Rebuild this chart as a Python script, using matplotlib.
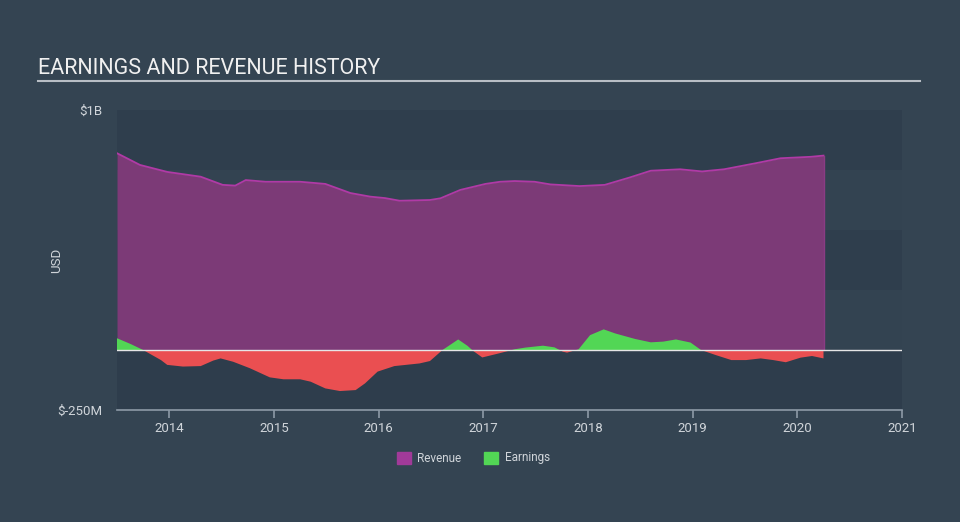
import numpy as np
import matplotlib.pyplot as plt

plt.rcParams['font.family'] = ['Roboto', 'DejaVu Sans']

# revenue history, $M
rev_years = [2013.50, 2013.72, 2013.98, 2014.30, 2014.51, 2014.63, 2014.73, 2014.92,
             2015.25, 2015.49, 2015.73, 2015.92, 2016.06, 2016.20, 2016.49, 2016.59,
             2016.78, 2017.02, 2017.16, 2017.30, 2017.49, 2017.64, 2017.92, 2018.16,
             2018.40, 2018.60, 2018.88, 2019.09, 2019.30, 2019.60, 2019.84, 2020.13,
             2020.25]
revenue = [820, 771, 742, 722, 688, 685, 708, 701,
           701, 692, 654, 639, 633, 622, 625, 632,
           667, 692, 701, 704, 701, 690, 683, 688,
           719, 747, 753, 744, 753, 778, 799, 805,
           810]

# earnings history, $M
earn_years = [2013.50, 2013.63, 2013.75, 2013.92, 2013.98, 2014.13, 2014.30, 2014.42,
              2014.49, 2014.61, 2014.77, 2014.96, 2015.09, 2015.25, 2015.35, 2015.49,
              2015.63, 2015.78, 2015.87, 2015.99, 2016.15, 2016.39, 2016.49, 2016.61,
              2016.76, 2016.85, 2016.90, 2016.99, 2017.15, 2017.30, 2017.40, 2017.57,
              2017.68, 2017.76, 2017.80, 2017.91, 2018.02, 2018.15, 2018.26, 2018.45,
              2018.60, 2018.72, 2018.84, 2018.98, 2019.08, 2019.22, 2019.37, 2019.51,
              2019.65, 2019.77, 2019.89, 2020.03, 2020.14, 2020.25]
earnings = [49, 25, 0, -42, -62, -69, -67, -44,
            -35, -49, -76, -114, -122, -122, -132, -160,
            -171, -167, -139, -90, -67, -56, -46, 0,
            44, 17, -3, -31, -14, 3, 10, 18,
            11, -7, -11, 3, 62, 86, 69, 46,
            32, 35, 44, 31, 0, -21, -42, -42,
            -35, -42, -51, -32, -25, -35]

year_ticks = [2014, 2015, 2016, 2017, 2018, 2019, 2020, 2021]

bg = '#344452'
fig = plt.figure(figsize=(9.6, 5.22), dpi=100, facecolor=bg)
ax = fig.add_axes([117/960, 112/522, 785/960, 300/522])
ax.set_facecolor(bg)

ymin, ymax = -250, 1000
ax.set_xlim(2013.5, 2021.0)
ax.set_ylim(ymin, ymax)

# alternating horizontal bands
band_edges = [-250, 0, 250, 500, 750, 1000]
band_cols = ['#2e3d4c', '#334351', '#2f3e4d', '#334351', '#2f3e4d']
for i in range(5):
    ax.axhspan(band_edges[i], band_edges[i + 1], color=band_cols[i], lw=0, zorder=0)

ax.fill_between(rev_years, 0, revenue, color='#7c3a77', lw=0, zorder=2)
ax.plot(rev_years, revenue, color='#b03aa6', lw=1.3, zorder=3)
ax.plot([rev_years[-1], rev_years[-1]], [0, revenue[-1]], color='#8a3c84', lw=1, zorder=3)

ey = np.array(earn_years)
ev = np.array(earnings)
ax.fill_between(ey, 0, ev, where=ev >= 0, interpolate=True, color='#52d655', lw=0, zorder=4)
ax.fill_between(ey, 0, ev, where=ev <= 0, interpolate=True, color='#ea4f51', lw=0, zorder=4)

ax.axhline(0, color='#e6e6e6', lw=1.0, zorder=5)

for s in ['top', 'right', 'left']:
    ax.spines[s].set_visible(False)
ax.spines['bottom'].set_color('#8d9aa7')
ax.spines['bottom'].set_linewidth(1.2)

ax.set_xticks(year_ticks)
ax.set_xticklabels([str(y) for y in year_ticks])
ax.tick_params(axis='x', colors='#8d9aa7', length=6, width=1.2, labelsize=9.5,
               labelcolor='#d0d5da', pad=3)
ax.set_yticks([ymin, ymax])
ax.set_yticklabels(['$-250M', '$1B'])
ax.tick_params(axis='y', length=0, labelsize=9.5, labelcolor='#d0d5da', pad=10.5)
ax.set_ylabel('USD', color='#d0d5da', fontsize=9.5)
ax.yaxis.set_label_coords(-0.069, 0.5)

fig.text(38/960, 1 - 68/522, 'EARNINGS AND REVENUE HISTORY', color='#f0f0f0',
         fontsize=15.5, va='center', ha='left')
fig.add_artist(plt.Line2D([38/960, 920/960], [1 - 81/522, 1 - 81/522],
                          color='#b8bec5', lw=1.5))

# legend
fig.patches.append(plt.Rectangle((397/960, 1 - 464/522), 14/960, 12/522,
                                 transform=fig.transFigure, color='#a13a99'))
fig.text(417/960, 1 - 458/522, 'Revenue', color='#d0d5da', fontsize=8.5, va='center')
fig.patches.append(plt.Rectangle((484/960, 1 - 464/522), 14/960, 12/522,
                                 transform=fig.transFigure, color='#52d655'))
fig.text(505/960, 1 - 458/522, 'Earnings', color='#d0d5da', fontsize=8.5, va='center')

fig.savefig('out.png', dpi=100, facecolor=bg)
